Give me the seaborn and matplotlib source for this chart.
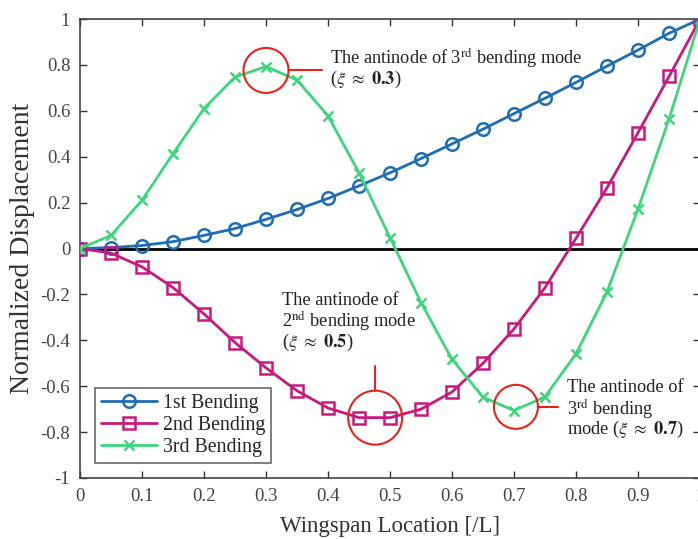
import numpy as np
import pandas as pd
import matplotlib
matplotlib.use("Agg")
import matplotlib.pyplot as plt
from matplotlib.patches import Ellipse
import seaborn as sns

x_loc = [0, 0.05, 0.1, 0.15, 0.2, 0.25, 0.3, 0.35, 0.4, 0.45, 0.5,
         0.55, 0.6, 0.65, 0.7, 0.75, 0.8, 0.85, 0.9, 0.95, 1.0]
bend1 = [0, 0.004, 0.013, 0.03, 0.057, 0.087, 0.127, 0.17, 0.218, 0.273, 0.33,
         0.392, 0.456, 0.52, 0.588, 0.655, 0.724, 0.795, 0.865, 0.938, 1.0]
bend2 = [0, -0.02, -0.08, -0.17, -0.285, -0.41, -0.52, -0.62, -0.695, -0.737, -0.737,
         -0.70, -0.625, -0.50, -0.35, -0.17, 0.045, 0.265, 0.505, 0.75, 1.0]
bend3 = [0, 0.057, 0.21, 0.413, 0.61, 0.747, 0.793, 0.734, 0.578, 0.33, 0.047,
         -0.236, -0.483, -0.648, -0.706, -0.646, -0.458, -0.188, 0.173, 0.565, 1.0]
series_names = ["1st Bending", "2nd Bending", "3rd Bending"]
xticks = [0, 0.1, 0.2, 0.3, 0.4, 0.5, 0.6, 0.7, 0.8, 0.9, 1]
xtick_labels = ["0", "0.1", "0.2", "0.3", "0.4", "0.5", "0.6", "0.7", "0.8", "0.9", "1"]
yticks = [-1, -0.8, -0.6, -0.4, -0.2, 0, 0.2, 0.4, 0.6, 0.8, 1]
ytick_labels = ["-1", "-0.8", "-0.6", "-0.4", "-0.2", "0", "0.2", "0.4", "0.6", "0.8", "1"]

sns.set_theme(style="ticks")
plt.rcParams['font.family'] = ['Liberation Serif', 'DejaVu Serif']
plt.rcParams['mathtext.fontset'] = 'stix'

fig = plt.figure(figsize=(6.98, 5.39), dpi=100)
ax = fig.add_axes([0.1146, 0.1132, 0.8854 + 0.003, 0.8515])

colors = ["#1f6db3", "#c8197f", "#3dd67e"]
markers = ["o", "s", "x"]
msizes = [9, 8, 6.5]
for vals, name, c, m, ms in zip([bend1, bend2, bend3], series_names, colors, markers, msizes):
    df = pd.DataFrame({"x": x_loc, "y": vals})
    sns.lineplot(data=df, x="x", y="y", ax=ax, color=c, linewidth=2,
                 marker=m, markersize=ms, markerfacecolor='none',
                 markeredgecolor=c, markeredgewidth=1.8, label=name, zorder=3)

ax.axhline(0, color="black", linewidth=2, zorder=2)

ax.set_xlim(0, 1)
ax.set_ylim(-1, 1)
ax.set_xticks(xticks)
ax.set_xticklabels(xtick_labels)
ax.set_yticks(yticks)
ax.set_yticklabels(ytick_labels)
ax.tick_params(direction="in", top=True, right=True, length=5, width=1,
               labelsize=13.5, colors="#333333", labelcolor="#444444", pad=7)
for s in ax.spines.values():
    s.set_color("#444444")
    s.set_linewidth(1.2)
ax.set_xlabel("Wingspan Location [/L]", fontsize=16.5, color="#333333", labelpad=8)
ax.set_ylabel("Normalized Displacement", fontsize=20, color="#333333", labelpad=4)

leg = ax.legend(loc="lower left", bbox_to_anchor=(0.025, 0.033), fontsize=14.3,
                frameon=True, fancybox=False, edgecolor="#444444", borderaxespad=0,
                handlelength=2.8, borderpad=0.3, labelspacing=0.15, handletextpad=0.3)
leg.get_frame().set_linewidth(1.2)

# annotations: circles in pixel-consistent sizes
px_x = 620.0
px_y = 229.5
def circ(cx, cy, r):
    ax.add_patch(Ellipse((cx, cy), 2 * r / px_x, 2 * r / px_y, fill=False,
                         edgecolor="#e8221f", linewidth=1.5, zorder=5))

fs = 13.2
circ(0.30, 0.776, 22.5)
ax.plot([0.30 + 22.5 / px_x, 0.39], [0.776, 0.776], color="#e8221f", lw=1.5, zorder=5)
ax.text(0.403, 0.828, r"The antinode of 3$^{\rm rd}$ bending mode", fontsize=fs,
        color="#222222", va="center", ha="left")
ax.text(0.403, 0.735, r"($\xi\ \approx\ \mathbf{0.3}$)", fontsize=fs,
        color="#222222", va="center", ha="left")

circ(0.476, -0.737, 27)
ax.plot([0.476, 0.476], [-0.737 + 27 / px_y, -0.51], color="#e8221f", lw=1.5, zorder=5)
ax.text(0.325, -0.225, "The antinode of", fontsize=fs, color="#222222", va="center", ha="left")
ax.text(0.325, -0.318, r"2$^{\rm nd}$ bending mode", fontsize=fs, color="#222222", va="center", ha="left")
ax.text(0.325, -0.41, r"($\xi\ \approx\ \mathbf{0.5}$)", fontsize=fs, color="#222222", va="center", ha="left")

circ(0.703, -0.69, 22)
ax.plot([0.703 + 22 / px_x, 0.771], [-0.69, -0.69], color="#e8221f", lw=1.5, zorder=5)
ax.text(0.785, -0.605, "The antinode of", fontsize=fs, color="#222222", va="center", ha="left")
ax.text(0.785, -0.698, r"3$^{\rm rd}$ bending", fontsize=fs, color="#222222", va="center", ha="left")
ax.text(0.785, -0.79, r"mode ($\xi\ \approx\ \mathbf{0.7}$)", fontsize=fs, color="#222222", va="center", ha="left")

fig.savefig("out.png", dpi=100)
